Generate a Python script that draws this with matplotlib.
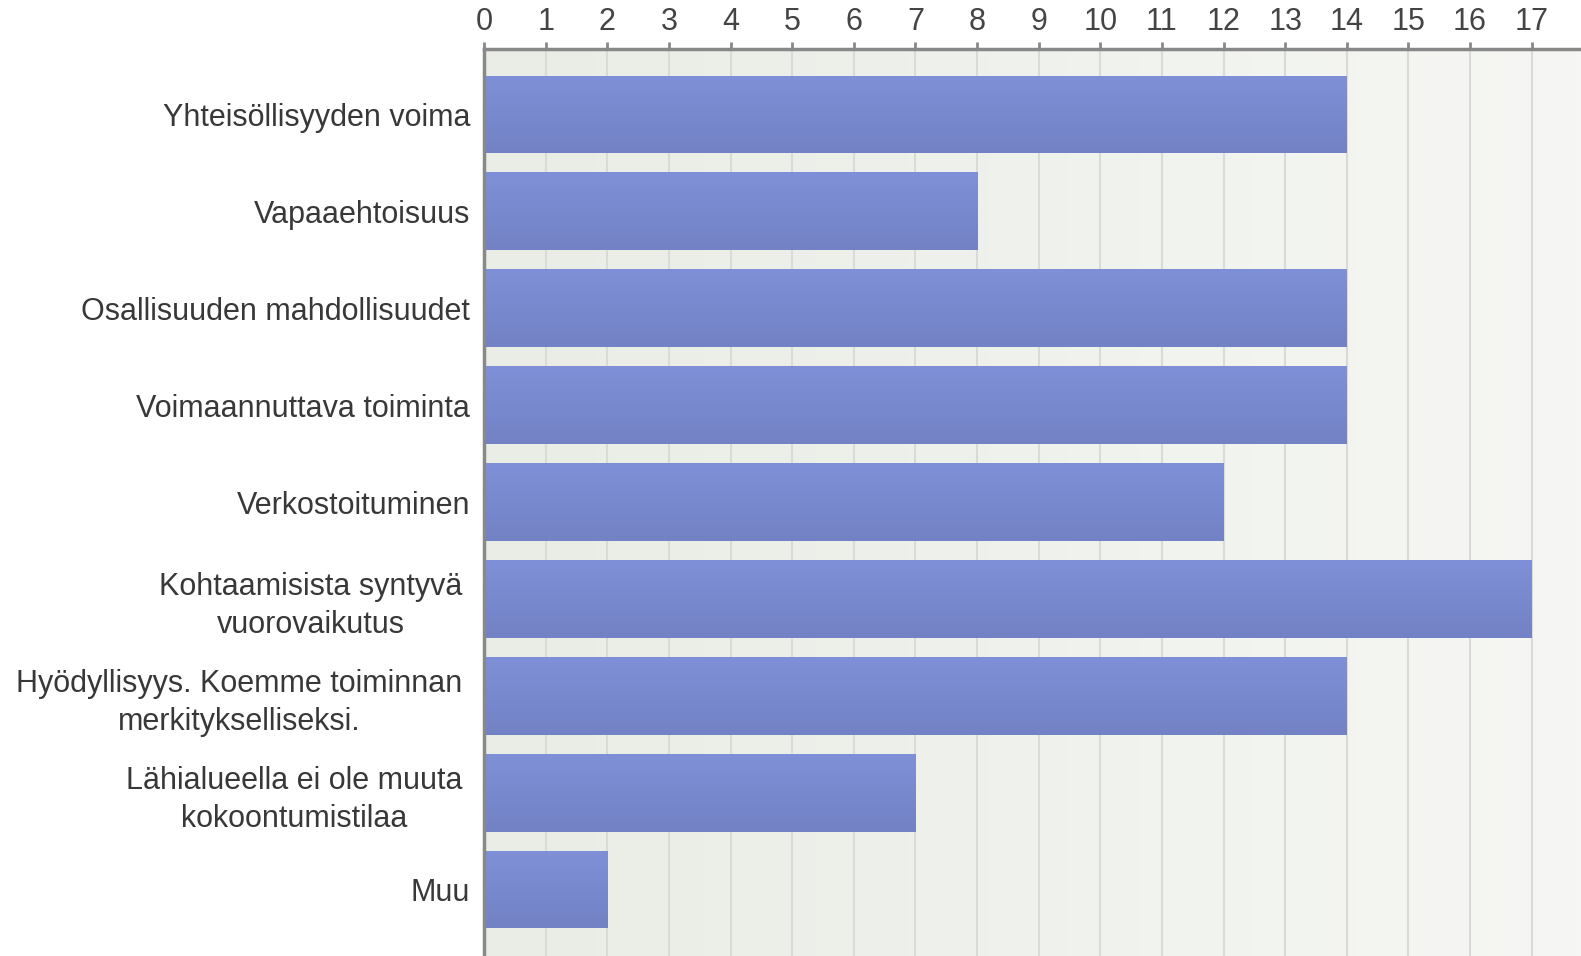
import matplotlib.pyplot as plt
import numpy as np
from matplotlib.colors import LinearSegmentedColormap

# tiedot
kategoriat = [
    "Yhteisöllisyyden voima",
    "Vapaaehtoisuus",
    "Osallisuuden mahdollisuudet",
    "Voimaannuttava toiminta",
    "Verkostoituminen",
    "Kohtaamisista syntyvä\nvuorovaikutus",
    "Hyödyllisyys. Koemme toiminnan\nmerkitykselliseksi.",
    "Lähialueella ei ole muuta\nkokoontumistilaa",
    "Muu",
]
arvot = [14, 8, 14, 14, 12, 17, 14, 7, 2]
x_tikit = list(range(0, 18))

plt.rcParams['font.family'] = ['Liberation Sans', 'DejaVu Sans']

fig = plt.figure(figsize=(15.81, 9.56), dpi=100)
ax = fig.add_axes([484 / 1581, 0, 1 - 484 / 1581, 1 - 49 / 956])

xmax = 17.8
ylim = (len(kategoriat) - 1 + 0.684, -0.674)
ax.set_xlim(0, xmax)
ax.set_ylim(*ylim)

# taustan liukuväri vasemmalta oikealle
tausta = LinearSegmentedColormap.from_list("tausta", ["#e9ede5", "#f6f7f4"])
grad = np.linspace(0, 1, 256).reshape(1, -1)
ax.imshow(grad, cmap=tausta, aspect='auto', extent=(0, xmax, ylim[0], ylim[1]),
          zorder=0, interpolation='bicubic')

# pystysuorat ruudukkoviivat
for t in x_tikit[1:]:
    ax.axvline(t, color="#d9dbd9", lw=1.5, zorder=1)

pos = np.arange(len(kategoriat))
palkit = ax.barh(pos, arvot, height=0.8, color="#7b8bd2", zorder=2, lw=0)

# palkkien pystysuuntainen liukuväri
palkkiv = LinearSegmentedColormap.from_list("palkki", ["#8090d8", "#7282c4"])
pgrad = np.linspace(0, 1, 64).reshape(-1, 1)
for p in palkit:
    x0, y0 = p.get_x(), p.get_y()
    w, h = p.get_width(), p.get_height()
    im = ax.imshow(pgrad, cmap=palkkiv, aspect='auto',
                   extent=(x0, x0 + w, y0 + h, y0), zorder=3, interpolation='bicubic')
    im.set_clip_path(p)

ax.set_xlim(0, xmax)
ax.set_ylim(*ylim)

ax.xaxis.tick_top()
ax.set_xticks(x_tikit)
ax.set_xticklabels([str(t) for t in x_tikit])
ax.tick_params(axis='x', length=5, width=2, color="#888888", labelsize=22,
               labelcolor="#444444", pad=4)
ax.set_yticks(pos)
ax.set_yticklabels(kategoriat, multialignment='center', linespacing=1.35)
ax.tick_params(axis='y', length=0, labelsize=22, labelcolor="#383838", pad=10)
for lbl in ax.get_yticklabels():
    if "\n" in lbl.get_text():
        lbl.set_x(-0.007)

for s in ['right', 'bottom']:
    ax.spines[s].set_visible(False)
ax.spines['top'].set_color("#888888")
ax.spines['top'].set_linewidth(2.5)
ax.spines['left'].set_color("#888888")
ax.spines['left'].set_linewidth(2.5)
ax.spines['top'].set_zorder(5)
ax.spines['left'].set_zorder(5)

fig.savefig("out.png", dpi=100, facecolor="white")
